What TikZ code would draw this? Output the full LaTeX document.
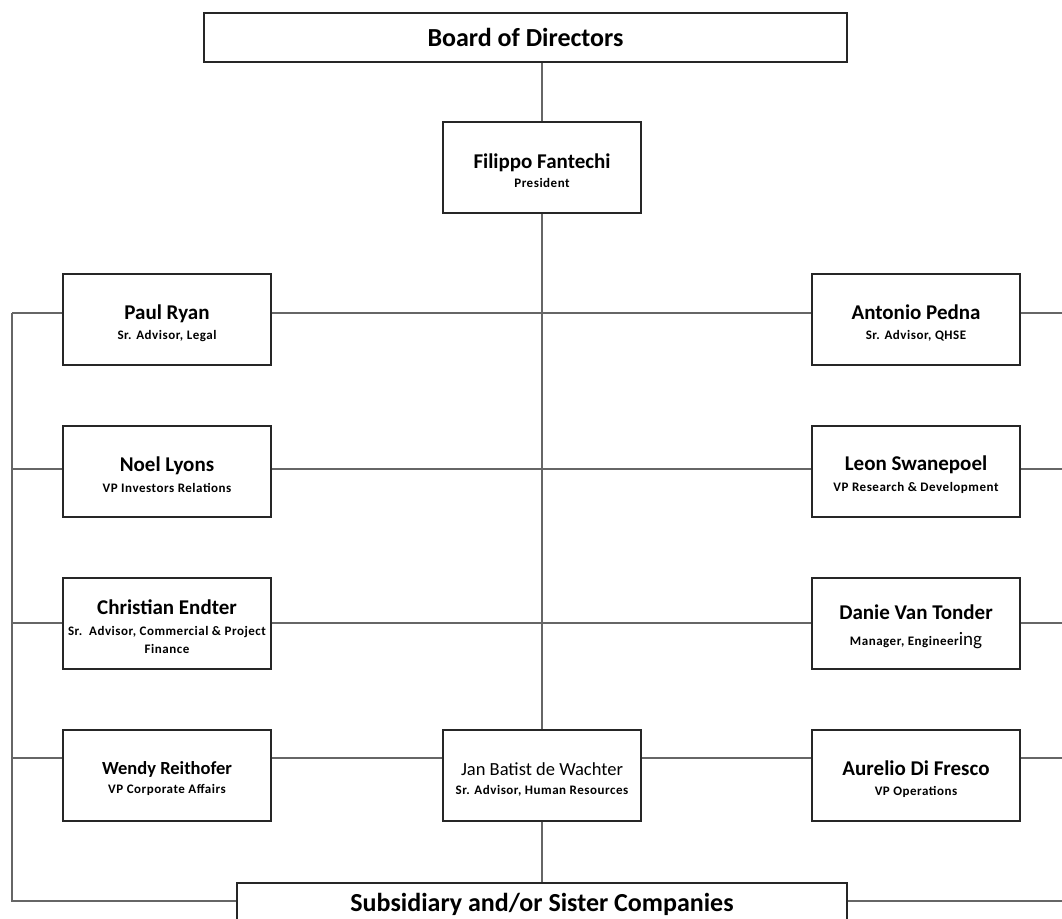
\documentclass[tikz,border=0pt]{standalone}
\usepackage{fontspec}
\setmainfont{Carlito}
\newfontfamily\subfont{Carlito}[LetterSpace=4]
\usetikzlibrary{positioning}

\newcommand{\nm}[1]{{\rmfamily\bfseries\fontsize{21}{24}\selectfont\rule{0pt}{22pt}#1}}

\tikzset{
  box/.style={draw=black!85, line width=1.5pt, fill=white, minimum width=208pt,
    minimum height=91pt, align=center, inner sep=0pt,
    font=\subfont\bfseries\fontsize{13}{18}\selectfont},
  cbox/.style={box, minimum width=198pt},
  link/.style={draw=black!60, line width=1.3pt}
}

\begin{document}
\begin{tikzpicture}[x=1pt, y=-1pt]
      \fill[white] (0,0) rectangle (1062,918);
      \clip (0,0) rectangle (1062,918);

      \node[box, minimum width=643pt, minimum height=49pt,
        font=\bfseries\fontsize{26}{28}\selectfont] (bd) at (525.5,37.5) {Board of Directors};
      \node[cbox] (ff) at (542,167.5) {\nm{Filippo Fantechi}\\[1pt]President};

      \node[box] (pr) at (167,319.5) {\nm{Paul Ryan}\\[2pt]Sr. Advisor, Legal};
      \node[box] (ap) at (916,319.5) {\nm{Antonio Pedna}\\[2pt]Sr. Advisor, QHSE};

      \node[box] (nl) at (167,471.5) {\nm{Noel Lyons}\\[3pt]VP Investors Relations};
      \node[box] (ls) at (916,471.5) {\nm{Leon Swanepoel}\\[3pt]VP Research \& Development};

      \node[box] (ce) at (167,623.5) {\nm{Christian Endter}\\[3pt]Sr.\ \ Advisor, Commercial \& Project\\Finance};
      \node[box] (dv) at (916,623.5) {\nm{Danie Van Tonder}\\[8pt]Manager, Engineer{\rmfamily\mdseries\fontsize{19}{19}\selectfont ing}};

      \node[box] (wr) at (167,775.5) {{\rmfamily\bfseries\fontsize{18.5}{20}\selectfont\rule{0pt}{20pt}Wendy Reithofer}\\[1pt]VP Corporate Affairs};
      \node[cbox] (jw) at (542,775.5) {{\rmfamily\mdseries\fontsize{18.5}{20}\selectfont\rule{0pt}{20pt}Jan Batist de Wachter}\\[1pt]Sr. Advisor, Human Resources};
      \node[box] (ad) at (916,775.5) {\nm{Aurelio Di Fresco}\\[2pt]VP Operations};

      \node[box, minimum width=610pt, minimum height=42pt,
        font=\bfseries\fontsize{26}{28}\selectfont] (sc) at (542,904) {Subsidiary and/or Sister Companies};

      \coordinate (l1) at (12,313);
      \coordinate (l2) at (12,469);
      \coordinate (l3) at (12,623);
      \coordinate (l4) at (12,758);
      \coordinate (l5) at (12,901);
      \coordinate (r1) at (1062,313);
      \coordinate (r2) at (1062,469);
      \coordinate (r3) at (1062,623);
      \coordinate (r4) at (1062,758);
      \coordinate (r5) at (1062,901);

      \draw[link] (ff.north |- bd.south) -- (ff.north);
      \draw[link] (ff.south) -- (jw.north);
      \draw[link] (jw.south) -- (sc.north);

      \draw[link] (l1 -| pr.east) -- (l1 -| ap.west);
      \draw[link] (l2 -| nl.east) -- (l2 -| ls.west);
      \draw[link] (l3 -| ce.east) -- (l3 -| dv.west);
      \draw[link] (l4 -| wr.east) -- (l4 -| jw.west);
      \draw[link] (l4 -| jw.east) -- (l4 -| ad.west);

      \draw[link] (l1) -- (l5) -- (l5 -| sc.west);
      \draw[link] (l1) -- (l1 -| pr.west);
      \draw[link] (l2) -- (l2 -| nl.west);
      \draw[link] (l3) -- (l3 -| ce.west);
      \draw[link] (l4) -- (l4 -| wr.west);

      \draw[link] (r1 -| ap.east) -- (r1);
      \draw[link] (r2 -| ls.east) -- (r2);
      \draw[link] (r3 -| dv.east) -- (r3);
      \draw[link] (r4 -| ad.east) -- (r4);
      \draw[link] (r5 -| sc.east) -- (r5);
    \end{tikzpicture}
\end{document}
